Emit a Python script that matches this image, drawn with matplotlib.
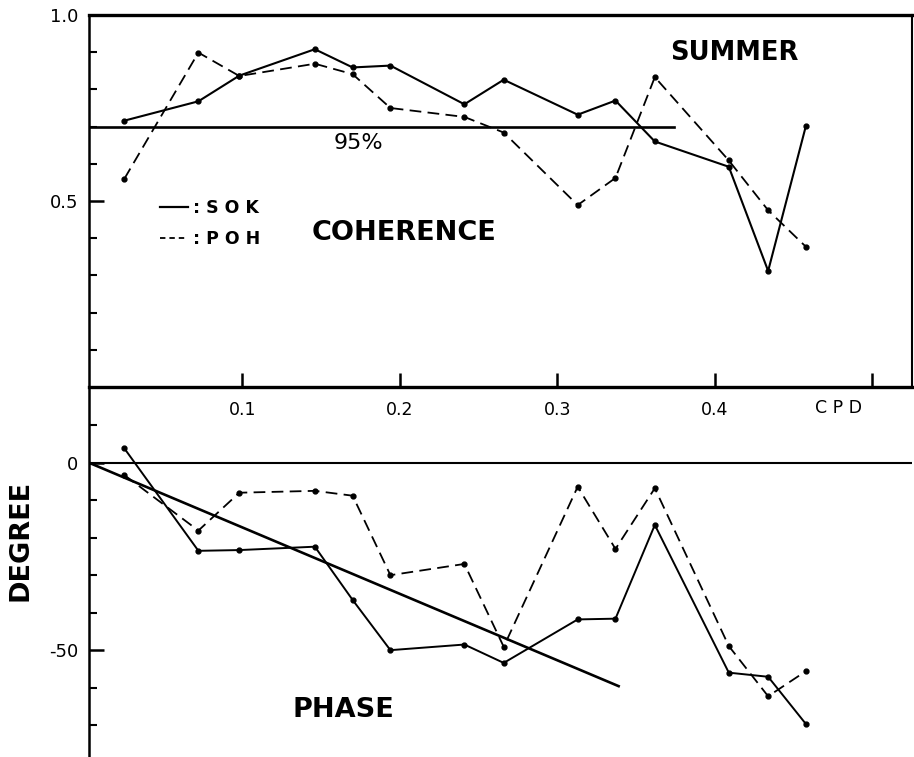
import matplotlib
matplotlib.use("Agg")
import matplotlib.pyplot as plt
from matplotlib.lines import Line2D

# frequency of the spectral estimates (cycles per day)
freq = [0.025, 0.072, 0.098, 0.146, 0.170, 0.194, 0.241,
        0.266, 0.313, 0.337, 0.362, 0.409, 0.434, 0.458]

# coherence
coh_sok = [0.716, 0.768, 0.837, 0.908, 0.859, 0.864, 0.760,
           0.826, 0.732, 0.770, 0.660, 0.592, 0.312, 0.702]
coh_poh = [0.560, 0.899, 0.836, 0.869, 0.841, 0.750, 0.726,
           0.684, 0.489, 0.562, 0.833, 0.609, 0.475, 0.377]

# phase in degrees
phase_sok = [3.8, -23.5, -23.3, -22.4, -36.6, -50.0, -48.5,
             -53.4, -41.8, -41.6, -16.6, -56.0, -57.1, -69.7]
phase_poh = [-3.3, -18.1, -8.0, -7.5, -8.8, -30.0, -27.0,
             -49.1, -6.4, -23.0, -6.8, -48.9, -62.3, -55.6]

# 95% confidence level and fitted phase line
sig95 = 0.70
sig95_x = [0.0025, 0.374]
trend_x = [0.0025, 0.339]
trend_y = [0.0, -59.6]

xticks = [0.1, 0.2, 0.3, 0.4, 0.5]
xticklabels = ['0.1', '0.2', '0.3', '0.4', '']

W, H = 914, 757
fig = plt.figure(figsize=(W / 100, H / 100), dpi=100)
ax1 = fig.add_axes([89 / W, 1 - 387 / H, 823 / W, 372 / H])
ax2 = fig.add_axes([89 / W, 0, 823 / W, 370 / H])
ax2.patch.set_visible(False)

xlim = (0.0025, 0.5254)

# --- coherence ---
ax1.set_xlim(xlim)
ax1.set_ylim(0, 1.0)
ax1.plot(freq, coh_sok, color='k', lw=1.5, marker='o', ms=3.5)
ax1.plot(freq, coh_poh, color='k', lw=1.3, ls='--', dashes=(6.5, 3.5),
         marker='o', ms=3.5)
ax1.plot(sig95_x, [sig95, sig95], color='k', lw=1.9)
ax1.text(0.174, 0.655, '95%', ha='center', va='center', fontsize=16)
ax1.text(0.4126, 0.898, 'SUMMER', ha='center', va='center',
         fontsize=18.5, fontweight='bold')
ax1.text(0.2027, 0.414, 'COHERENCE', ha='center', va='center',
         fontsize=19.5, fontweight='bold')
ax1.text(0.479, -0.056, 'C P D', ha='center', va='center',
         fontsize=12.5, clip_on=False)

handles = [Line2D([], [], color='k', lw=1.6),
           Line2D([], [], color='k', lw=1.3, ls='--', dashes=(3, 2.2))]
ax1.legend(handles, [': S O K', ': P O H'], loc='upper left',
           bbox_to_anchor=(0.0863, 0.505), frameon=False,
           prop={'size': 12.5, 'weight': 'bold'},
           handlelength=1.6, handletextpad=0.3, labelspacing=0.75,
           borderpad=0, borderaxespad=0)

ax1.set_xticks(xticks)
ax1.set_xticklabels(xticklabels)
ax1.set_yticks([0.5, 1.0])
ax1.set_yticklabels(['0.5', '1.0'])
ax1.set_yticks([0.1, 0.2, 0.3, 0.4, 0.6, 0.7, 0.8, 0.9], minor=True)
ax1.tick_params(axis='x', direction='in', length=10, width=1.8,
                labelsize=12.5, pad=10, top=False)
ax1.tick_params(axis='y', which='major', direction='in', length=11,
                width=1.8, labelsize=13, pad=8, right=False)
ax1.tick_params(axis='y', which='minor', direction='in', length=6,
                width=1.5, right=False)
ax1.spines['top'].set_linewidth(2.4)
ax1.spines['bottom'].set_linewidth(2.4)
ax1.spines['left'].set_linewidth(1.8)
ax1.spines['right'].set_linewidth(1.5)

# --- phase ---
ax2.set_xlim(xlim)
ax2.set_ylim(-78.5, 20.2)
ax2.axhline(0, color='k', lw=1.5)
ax2.plot(trend_x, trend_y, color='k', lw=1.9)
ax2.plot(freq, phase_sok, color='k', lw=1.4, marker='o', ms=3.5)
ax2.plot(freq, phase_poh, color='k', lw=1.3, ls='--', dashes=(6.5, 3.5),
         marker='o', ms=3.5)
ax2.text(0.164, -66.0, 'PHASE', ha='center', va='center',
         fontsize=19.5, fontweight='bold')
ax2.set_ylabel('DEGREE', fontsize=19.5, fontweight='bold')
ax2.yaxis.set_label_coords(-0.068, 0.584)

ax2.set_xticks([])
ax2.set_yticks([-50, 0])
ax2.set_yticklabels(['-50', '0'])
ax2.set_yticks([-70, -60, -40, -30, -20, -10, 10], minor=True)
ax2.tick_params(axis='y', which='major', direction='in', length=11,
                width=1.8, labelsize=13, pad=8)
ax2.tick_params(axis='y', which='minor', direction='in', length=6,
                width=1.5)
for side in ['top', 'right', 'bottom']:
    ax2.spines[side].set_visible(False)
ax2.spines['left'].set_linewidth(1.8)

fig.savefig('out.png', dpi=100)
